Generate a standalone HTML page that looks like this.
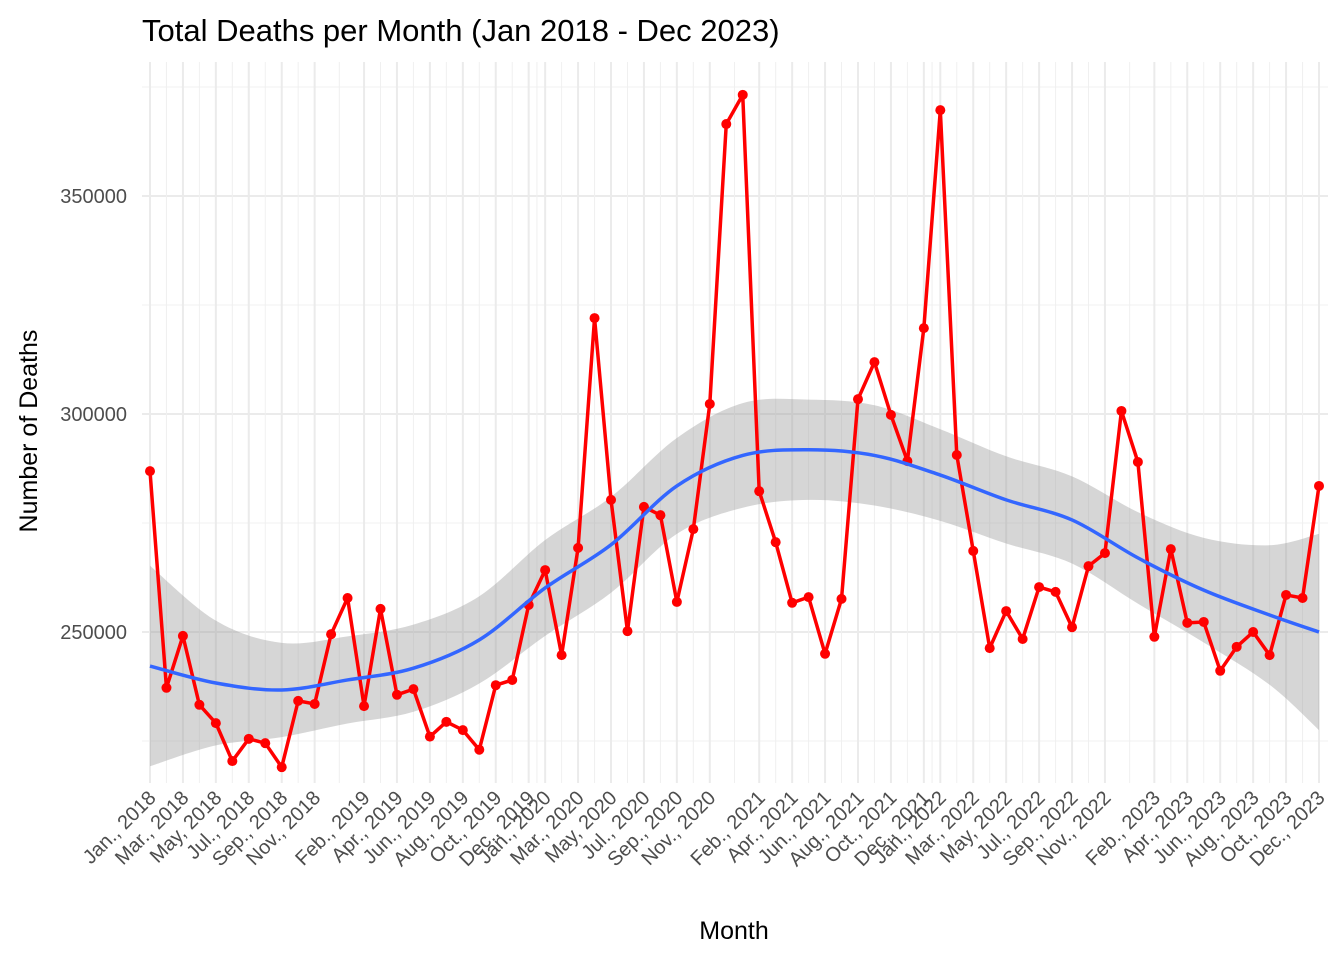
<!DOCTYPE html>
<html><head><meta charset="utf-8"><style>
body{margin:0;background:#fff;}
svg text{font-family:"Liberation Sans",sans-serif;}
</style></head><body>
<svg id="c" width="1344" height="960" xmlns="http://www.w3.org/2000/svg">
<text x="142" y="41" font-size="31" fill="#000">Total Deaths per Month (Jan 2018 - Dec 2023)</text>
<text x="734" y="939" font-size="25" text-anchor="middle" fill="#000">Month</text>
<text transform="translate(37,431) rotate(-90)" font-size="25" text-anchor="middle" fill="#000">Number of Deaths</text>
<g id="grid"></g><g id="band"></g><g id="series"></g><g id="smooth"></g><g id="axes"></g>
</svg>
<script>
const deaths=[286900,237200,249100,233300,229100,220400,225500,224500,219000,234200,233500,249500,
257800,233000,255300,235600,236900,226000,229400,227500,223000,237800,239000,256200,
264200,244700,269300,322000,280300,250200,278700,276800,256900,273600,302300,366500,
373200,282300,270600,256700,258000,245000,257600,303400,311900,299800,289200,319700,
369700,290600,268600,246300,254800,248400,260300,259200,251100,265100,268100,300700,
289000,248900,269000,252100,252300,241100,246600,250000,244700,258500,257800,283500];
const monthNames=["Jan.","Feb.","Mar.","Apr.","May","Jun.","Jul.","Aug.","Sep.","Oct.","Nov.","Dec."];
const tickIdx=[0,2,4,6,8,10,13,15,17,19,21,23,24,26,28,30,32,34,37,39,41,43,45,47,48,50,52,54,56,58,61,63,65,67,69,71];
const yTicks=[250000,300000,350000];
const yMinor=[225000,275000,325000,375000];
const smoothIdx=[0,4,8,12,16,20,24,28,32,36,40,44,48,52,56,60,64,68,71];
const smoothVal=[242200,238300,236700,239000,241700,248200,260100,270000,283500,290500,291800,290500,286000,280300,275700,267000,259600,253900,250000];
const smoothSe=[23000,14300,10800,10000,10000,10000,11000,11000,11000,12000,11500,11500,10500,10000,10000,10500,12000,16000,22500];

const NS="http://www.w3.org/2000/svg";
const X=i=>150+i*(1319-150)/71;
const Y=v=>196+(350000-v)*218/50000;
const L=142,R=1328,T=62,B=783;
function mk(tag,attrs,parent){const e=document.createElementNS(NS,tag);for(const k in attrs)e.setAttribute(k,attrs[k]);parent.appendChild(e);return e;}
const grid=document.getElementById('grid');
yMinor.forEach(v=>{const l=mk('line',{x1:L,x2:R,y1:Y(v),y2:Y(v),stroke:'#f0f0f0','stroke-width':1},grid);

});
yTicks.forEach(v=>{const l=mk('line',{x1:L,x2:R,y1:Y(v),y2:Y(v),stroke:'#ebebeb','stroke-width':2},grid);


const t=mk('text',{x:127,y:Y(v)+7,'font-size':20,'text-anchor':'end',fill:'#4d4d4d'},grid);t.textContent=v;

});
for(let k=0;k<tickIdx.length;k++){const i=tickIdx[k];
if(k>0){const m=(tickIdx[k-1]+i)/2;const l=mk('line',{x1:X(m),x2:X(m),y1:T,y2:B,stroke:'#f0f0f0','stroke-width':1},grid);

}
const l=mk('line',{x1:X(i),x2:X(i),y1:T,y2:B,stroke:'#ebebeb','stroke-width':2},grid);


const lab=monthNames[i%12]+", "+(2018+Math.floor(i/12));
const t=mk('text',{transform:`translate(${X(i)+7},${799}) rotate(-45)`,'font-size':20,'text-anchor':'end',fill:'#4d4d4d'},grid);t.textContent=lab;

}
function curve(pts){let d=`M${pts[0][0]},${pts[0][1]}`;for(let i=0;i<pts.length-1;i++){const p0=pts[i-1]||pts[i],p1=pts[i],p2=pts[i+1],p3=pts[i+2]||p2;
d+=` C${p1[0]+(p2[0]-p0[0])/6},${p1[1]+(p2[1]-p0[1])/6} ${p2[0]-(p3[0]-p1[0])/6},${p2[1]-(p3[1]-p1[1])/6} ${p2[0]},${p2[1]}`;}return d;}
const up=smoothIdx.map((i,k)=>[X(i),Y(smoothVal[k]+smoothSe[k])]);
const lo=smoothIdx.map((i,k)=>[X(i),Y(smoothVal[k]-smoothSe[k])]).reverse();
const bd=curve(up)+" L"+curve(lo).slice(1)+" Z";
const band=mk('path',{d:bd,fill:'#999999','fill-opacity':0.4},document.getElementById('band'));


const s=document.getElementById('series');
const line=mk('polyline',{points:deaths.map((v,i)=>X(i)+","+Y(v)).join(" "),fill:'none',stroke:'#ff0000','stroke-width':3.5,'stroke-linejoin':'round'},s);


deaths.forEach((v,i)=>{const c=mk('circle',{cx:X(i),cy:Y(v),r:5,fill:'#ff0000'},s);

});
const sm=mk('path',{d:curve(smoothIdx.map((i,k)=>[X(i),Y(smoothVal[k])])),fill:'none',stroke:'#3366ff','stroke-width':3.5},document.getElementById('smooth'));


</script>
</body></html>
